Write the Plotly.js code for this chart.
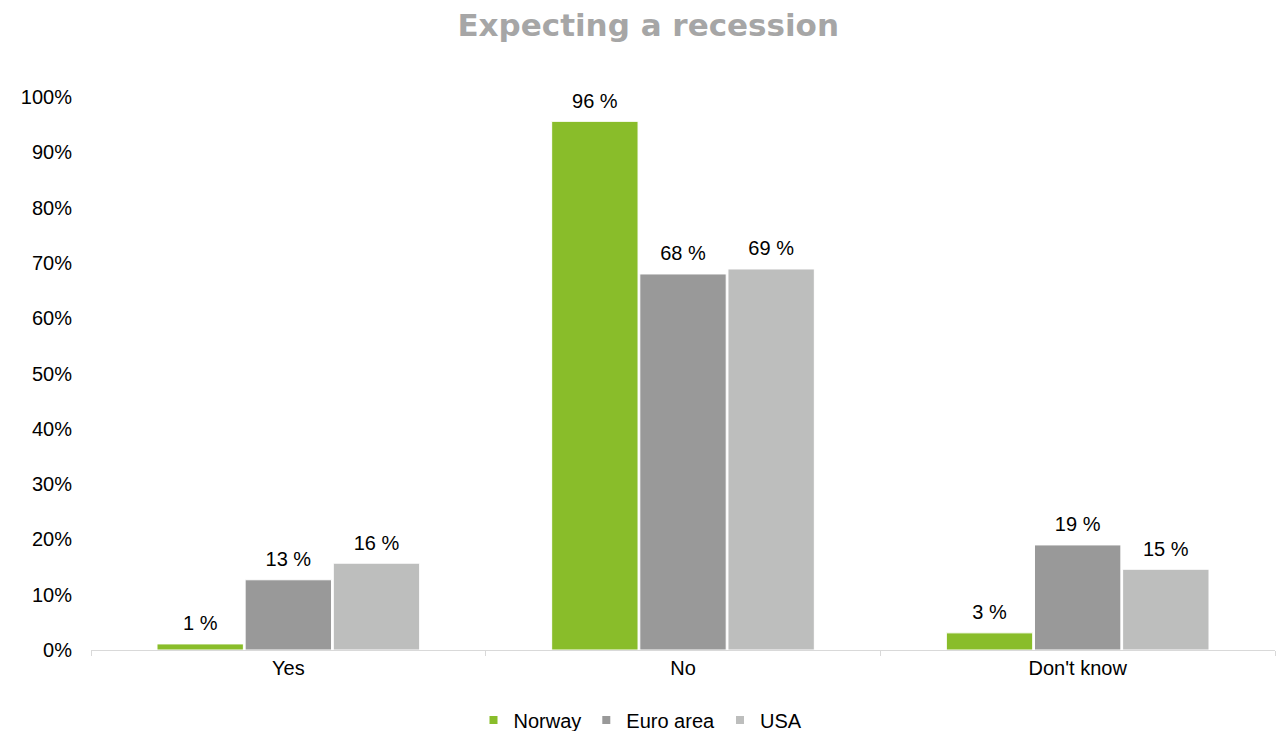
<!DOCTYPE html>
<html>
<head>
<meta charset="utf-8">
<script src="https://cdn.plot.ly/plotly-3.0.1.min.js"></script>
<style>html,body{margin:0;padding:0;background:#fff;}#chart{width:1281px;height:731px;}</style>
</head>
<body>
<div id="chart"></div>
<script>
var categories = ["Yes", "No", "Don't know"];
var seriesNames = ["Norway", "Euro area", "USA"];
var norway = [1.1, 95.6, 3.1];
var euroArea = [12.7, 68.0, 19.0];
var usa = [15.7, 68.9, 14.6];
var yTickVals = [0, 10, 20, 30, 40, 50, 60, 70, 80, 90, 100];
var yTickText = ["0%", "10%", "20%", "30%", "40%", "50%", "60%", "70%", "80%", "90%", "100%"];
var colors = ["#89bd2a", "#999999", "#bdbebd"];

var FONT = "Liberation Sans, Arial, sans-serif";
var seriesValues = [norway, euroArea, usa];
var traces = [];
seriesValues.forEach(function (vals, i) {
  traces.push({
    type: "bar",
    name: seriesNames[i],
    x: categories,
    y: vals,
    showlegend: false,
    alignmentgroup: "g", offsetgroup: "s" + i,
    marker: { color: colors[i], line: { color: "#ffffff", width: 1 } },
    hoverinfo: "x+y+name"
  });
});
// value labels, placed through the same grouped offsets as the bars
seriesValues.forEach(function (vals, i) {
  traces.push({
    type: "scatter", mode: "markers+text",
    name: seriesNames[i],
    x: categories, y: vals,
    alignmentgroup: "g", offsetgroup: "s" + i,
    marker: { size: 12, opacity: 0, color: colors[i] },
    texttemplate: "%{y:.0f} %",
    textposition: "top center",
    textfont: { family: FONT, size: 20, color: "#000000" },
    cliponaxis: false,
    showlegend: false, hoverinfo: "skip"
  });
});
// legend-only entries with small square swatches
seriesNames.forEach(function (nm, i) {
  traces.push({
    type: "scatter", mode: "markers", name: nm,
    x: [null], y: [null], xaxis: "x2",
    marker: { symbol: "square", size: 8, color: colors[i] },
    showlegend: true, hoverinfo: "skip"
  });
});

var layout = {
  width: 1281,
  height: 731,
  margin: { l: 91, r: 6, t: 97, b: 81 },
  paper_bgcolor: "#ffffff",
  plot_bgcolor: "#ffffff",
  title: {
    text: "<b>Expecting a recession</b>",
    font: { family: "DejaVu Sans, Verdana, sans-serif", size: 31, color: "#a6a6a6" },
    x: 0.506, xanchor: "center", y: 0.965, yanchor: "middle"
  },
  barmode: "group",
  bargap: 0.33,
  bargroupgap: 0.02,
  scattermode: "group",
  scattergap: 0.33,
  showlegend: true,
  legend: {
    orientation: "h", xref: "container", x: 0.5, xanchor: "center",
    yref: "container", y: 0.015, yanchor: "middle",
    font: { family: FONT, size: 20, color: "#000000" },
    itemwidth: 30, traceorder: "normal", tracegroupgap: 0
  },
  xaxis: {
    type: "category",
    showline: true, linecolor: "#d9d9d9", linewidth: 1,
    ticks: "outside", tickson: "boundaries", ticklen: 5, tickcolor: "#d9d9d9",
    showgrid: false, zeroline: false,
    tickfont: { family: FONT, size: 20, color: "#000000" }
  },
  xaxis2: { overlaying: "x", visible: false, range: [0, 1] },
  yaxis: {
    range: [0, 100],
    tickvals: yTickVals, ticktext: yTickText,
    showline: false, showgrid: false, zeroline: false,
    ticks: "", ticklabelstandoff: 18,
    tickfont: { family: FONT, size: 20, color: "#000000" }
  }
};

Plotly.newPlot("chart", traces, layout, { displayModeBar: false, responsive: false });
</script>
</body>
</html>
